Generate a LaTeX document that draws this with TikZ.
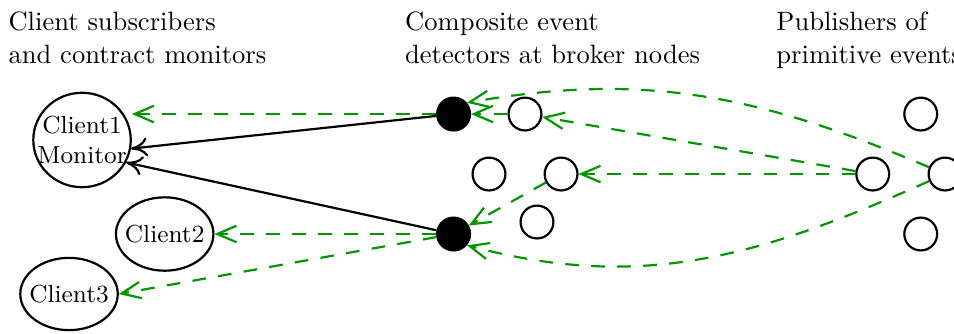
\documentclass[tikz,border=0pt]{standalone}
\usetikzlibrary{arrows.meta,shapes.geometric}
\definecolor{evgreen}{RGB}{0,150,0}
\begin{document}
\begin{tikzpicture}[
  client/.style={draw,thick,ellipse,font=\small,align=center,inner xsep=-4pt,inner ysep=0pt,minimum width=35.6pt},
  broker/.style={draw,thick,circle,inner sep=0pt,minimum size=12pt},
  ced/.style={broker,fill=black},
  ev/.style={evgreen,thick,dash pattern=on 5pt off 4.5pt,-{Straight Barb[length=7pt,width=6pt]}},
  sub/.style={thick,-{To[length=6pt,width=7pt]}},
  hdr/.style={anchor=north west,inner sep=0pt,align=left,font=\fontsize{9.7pt}{12pt}\selectfont}]
  \useasboundingbox (0,0) rectangle (12.246,4.275);
  \node[hdr] (hcli) at (0.103,4.127) {Client subscribers\\and contract monitors};
  \node[hdr] (hced) at (5.194,4.127) {Composite event\\detectors at broker nodes};
  \node[hdr] (hpub) at (9.96,4.127) {Publishers of\\primitive events};
  \node[client,minimum height=34.5pt] (c1) at (1.053,2.478) {Client1\\Monitor};
  \node[client,minimum height=26.8pt] (c2) at (2.114,1.271) {Client2};
  \node[client,minimum height=26.4pt] (c3) at (0.886,0.501) {Client3};
  \node[ced] (tb) at (5.822,2.811) {};
  \node[ced] (bb) at (5.822,1.271) {};
  \node[broker] (w1) at (6.739,2.811) {};
  \node[broker] (w2) at (6.277,2.041) {};
  \node[broker] (w3) at (7.202,2.041) {};
  \node[broker] (w4) at (6.893,1.425) {};
  \node[broker] (p1) at (11.819,2.811) {};
  \node[broker] (p2) at (11.203,2.041) {};
  \node[broker] (p3) at (12.131,2.041) {};
  \node[broker] (p4) at (11.819,1.271) {};
  \draw[ev] (tb) -- (c1.east |- tb);
  \draw[ev] (w1) -- (tb);
  \draw[ev] (p2) -- (w1);
  \draw[ev] (p2) -- (w3);
  \draw[ev] (w3) -- (bb);
  \draw[ev] (bb) -- (c2);
  \draw[ev] (bb) -- (c3.east);
  \draw[ev] (p3) to[out=157,in=10] (tb.40);
  \draw[ev] (p3) to[out=204,in=-15] (bb.-40);
  \draw[sub] (tb) -- (c1.-10);
  \draw[sub] (bb) -- (c1.-27);
\end{tikzpicture}
\end{document}
